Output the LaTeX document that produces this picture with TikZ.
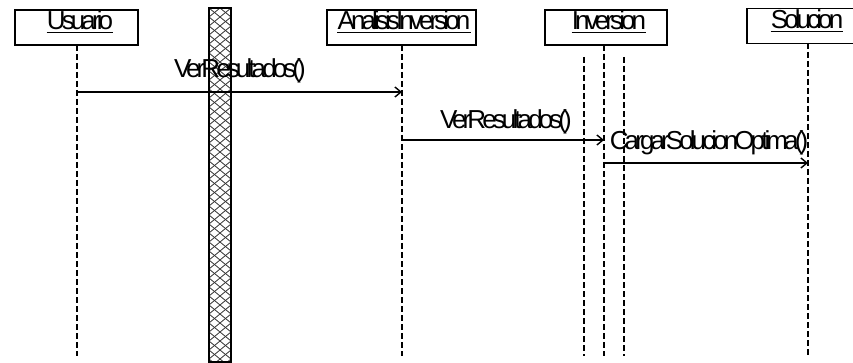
\documentclass[tikz,border=0pt]{standalone}
\usepackage{fontspec}
\setmainfont{Liberation Sans}[LetterSpace=-15]
\usetikzlibrary{arrows.meta}
\begin{document}
\begin{tikzpicture}[x=1pt,y=-1pt,
  objbox/.style={draw,line width=1.6pt,minimum height=35pt,inner sep=0pt},
  objlbl/.style={anchor=base,inner sep=0pt,font=\fontsize{26}{28}\selectfont},
  msglbl/.style={anchor=base,inner sep=0pt,font=\fontsize{26}{28}\selectfont},
  lifeline/.style={line width=1.6pt,dash pattern=on 6pt off 3pt},
  msg/.style={line width=1.6pt,-{Straight Barb[length=6pt,width=10pt,line width=1.4pt]}},
  uline/.style={line width=1.4pt}]
\useasboundingbox (0,0) rectangle (853,363);
\clip (0,0) rectangle (853,363);

% object boxes
\node[objbox,minimum width=123pt] (usuario) at (76.5,27.5) {};
\node[objbox,minimum width=149pt] (analisis) at (401.5,27.5) {};
\node[objbox,minimum width=122pt] (inversion) at (606,27.5) {};
\node[objbox,minimum width=140pt] (solucion) at (817,26) {};

% object names (underlined)
\node[objlbl] (tusuario) at (80,30) {Usuario};
\node[objlbl] (tanalisis) at (404,30) {AnalisisInversion};
\node[objlbl] (tinversion) at (609,30) {Inversion};
\node[objlbl] (tsolucion) at (807,29) {Solucion};
\foreach \t in {tusuario,tanalisis,tinversion,tsolucion}
  \draw[uline] ([yshift=-2.5pt]\t.base west) -- ([yshift=-2.5pt]\t.base east);

% lifelines
\coordinate (uEnd) at (77,356);
\coordinate (aEnd) at (402,356);
\coordinate (iEnd) at (604,356);
\coordinate (sEnd) at (808,356);
\coordinate (iLtop) at (584,57);
\coordinate (iLend) at (584,356);
\coordinate (iRtop) at (624,57);
\coordinate (iRend) at (624,356);
\draw[lifeline] (77,45) -- (uEnd);
\draw[lifeline] (402,45) -- (aEnd);
\draw[lifeline] (604,45) -- (iEnd);
\draw[lifeline] (808,43) -- (sEnd);
\draw[lifeline] (iLtop) -- (iLend);
\draw[lifeline] (iRtop) -- (iRend);

% hatched bar
\begin{scope}
  \clip (209,8) rectangle (231,362);
  \foreach \y in {-1,8,...,362} {
    \draw[line width=0.8pt,black!80]
      (209,\y) -- (220,\y+9) (220,\y) -- (209,\y+9)
      (220,\y) -- (231,\y+9) (231,\y) -- (220,\y+9);
  }
\end{scope}
\draw[line width=1.6pt] (209,8) rectangle (231,362);

% messages
\coordinate (m1s) at (77,92);
\coordinate (m1e) at (402,92);
\coordinate (m2s) at (402,140);
\coordinate (m2e) at (604,140);
\coordinate (m3s) at (604,163);
\coordinate (m3e) at (808,163);
\draw[msg] (m1s) -- (m1e);
\draw[msg] (m2s) -- (m2e);
\draw[msg] (m3s) -- (m3e);
\node[msglbl] (l1) at (240,78) {VerResultados()};
\node[msglbl] (l2) at (506,129) {VerResultados()};
\node[msglbl] (l3) at (709,150) {CargarSolucionOptima()};
\end{tikzpicture}
\end{document}
